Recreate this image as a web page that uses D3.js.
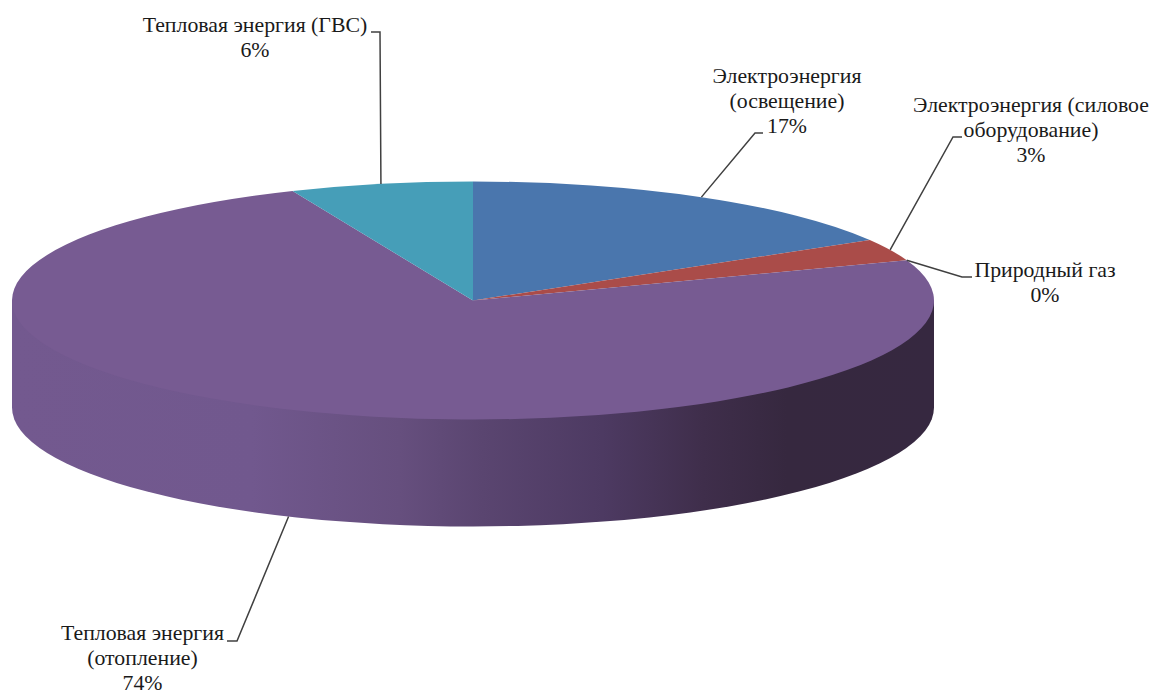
<!DOCTYPE html>
<html>
<head>
<meta charset="utf-8">
<script src="https://d3js.org/d3.v7.min.js"></script>
<style>
html, body { margin: 0; padding: 0; background: #fff; overflow: hidden; }
text { font-family: "Liberation Serif", serif; font-size: 21.8px; fill: #1a1a1a; text-anchor: middle; }
.leader { fill: none; stroke: #404040; stroke-width: 1.5; }
</style>
</head>
<body>
<svg id="chart" width="1152" height="691"></svg>
<script>
// slices, clockwise from 12 o'clock
const categories = [
    ["Электроэнергия", "(освещение)"],
    ["Электроэнергия (силовое", "оборудование)"],
    ["Природный газ"],
    ["Тепловая энергия", "(отопление)"],
    ["Тепловая энергия (ГВС)"]
];
const values = [16.5, 3.0, 0, 74.1, 6.4];
const colors = ["#4a76ad", "#aa4c49", "#8aa64f", "#775b92", "#469eb8"];

// pie geometry
const cx = 473, cy = 300.5, rx = 461, ry = 119, depth = 107;
const lineHeight = 25;

// label centre + first baseline, leader elbow, leader end
const labelPos = [
    {x: 787, y: 83, elbow: [755, 133], end: [763, 133]},
    {x: 1031, y: 112, elbow: [953, 137], end: [962, 137]},
    {x: 1045, y: 277, elbow: [962, 277], end: [972, 277]},
    {x: 142.5, y: 640, elbow: [237, 641], end: [227, 641]},
    {x: 255, y: 32, elbow: [380, 32], end: [371, 32]}
];

const svg = d3.select("#chart");

const pie = d3.pie().sort(null).value(d => d);
const arcs = pie(values);
const arc = d3.arc().innerRadius(0).outerRadius(rx);

// Side wall gradient
const grad = svg.append("defs").append("linearGradient")
    .attr("id", "side")
    .attr("gradientUnits", "userSpaceOnUse")
    .attr("x1", cx - rx).attr("x2", cx + rx).attr("y1", 0).attr("y2", 0);
[[0, "#73598f"], [0.26, "#71588e"], [0.42, "#664f7e"], [0.51, "#5a4570"], [0.64, "#4d3a62"], [0.75, "#3f2e4b"], [0.84, "#36283f"], [1, "#362840"]]
    .forEach(s => grad.append("stop").attr("offset", s[0]).attr("stop-color", s[1]));

// Side wall, runs under the top face so no seam shows at the rim
svg.append("path")
    .attr("d", `M${cx - rx},${cy} L${cx - rx},${cy + depth} A${rx},${ry} 0 0 0 ${cx + rx},${cy + depth} L${cx + rx},${cy} Z`)
    .attr("fill", "url(#side)");

// Top face
svg.append("g")
    .attr("transform", `translate(${cx},${cy}) scale(1,${ry / rx})`)
    .selectAll("path")
    .data(arcs)
    .enter()
    .append("path")
    .attr("d", arc)
    .attr("fill", (d, i) => colors[i]);

// Point on the rim for the middle of a slice
function rimPoint(d) {
    const a = (d.startAngle + d.endAngle) / 2;
    const x = cx + rx * Math.sin(a);
    let y = cy - ry * Math.cos(a);
    if (Math.cos(a) < -0.5) y += depth; // front slices: leader starts on the wall
    return [x, y];
}

// Leader lines
svg.selectAll(".leader")
    .data(arcs)
    .enter()
    .append("polyline")
    .attr("class", "leader")
    .attr("points", (d, i) => [rimPoint(d), labelPos[i].elbow, labelPos[i].end].join(" "));

// Labels
const labels = svg.selectAll(".label")
    .data(arcs)
    .enter()
    .append("text")
    .attr("class", "label")
    .attr("y", (d, i) => labelPos[i].y);

labels.each(function (d, i) {
    const lines = categories[i].concat(Math.round(d.value) + "%");
    d3.select(this).selectAll("tspan")
        .data(lines)
        .enter()
        .append("tspan")
        .attr("x", labelPos[i].x)
        .attr("dy", (_, j) => j === 0 ? 0 : lineHeight)
        .text(t => t);
});
</script>
</body>
</html>
